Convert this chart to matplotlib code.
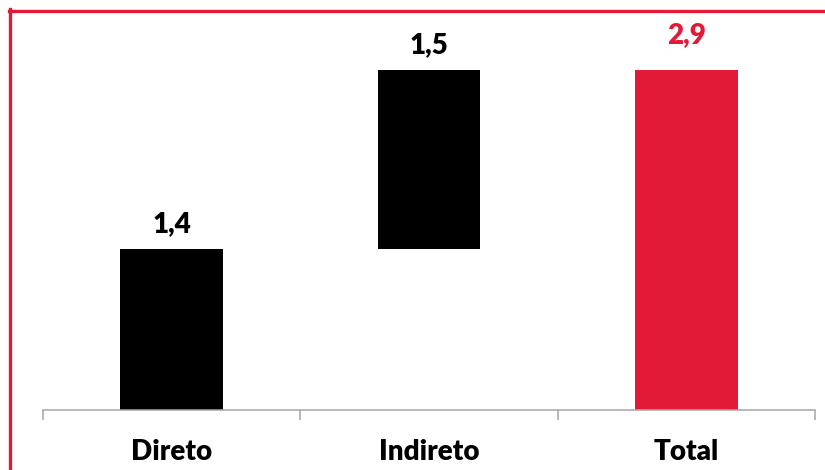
import matplotlib
matplotlib.use("Agg")
import matplotlib.pyplot as plt
from matplotlib.lines import Line2D
from matplotlib.transforms import offset_copy

categories = ["Direto", "Indireto", "Total"]
values = [1.37, 1.53, 2.9]
bottoms = [0.0, 1.37, 0.0]
colors = ["#000000", "#000000", "#E31A37"]
label_colors = ["#000000", "#000000", "#E31A37"]
label_offsets_px = [17, 17, 27]

W, H = 825, 470
fig = plt.figure(figsize=(W / 100, H / 100), dpi=100)
plt.rcParams['font.family'] = ['Lato', 'DejaVu Sans']

ax_left, ax_right = 43, 815
ax_bottom_px = 410
px_per_unit = 340 / 2.9
ymax = 3.3
ax_h = ymax * px_per_unit
ax = fig.add_axes([ax_left / W, (H - ax_bottom_px) / H, (ax_right - ax_left) / W, ax_h / H])

x = list(range(len(categories)))
ax.bar(x, values, bottom=bottoms, width=0.40, color=colors)
ax.set_xlim(-0.5, 2.5)
ax.set_ylim(0, ymax)

for xi, v, b, c, off in zip(x, values, bottoms, label_colors, label_offsets_px):
    tr = offset_copy(ax.transData, fig=fig, x=0, y=off * 0.72, units='points')
    ax.text(xi, v + b, f"{v:.1f}".replace(".", ","), transform=tr, ha='center', va='baseline',
            fontsize=20, fontweight='heavy', color=c)

for s in ['top', 'right', 'left']:
    ax.spines[s].set_visible(False)
ax.spines['bottom'].set_color('#A6A6A6')
ax.spines['bottom'].set_linewidth(1.1)
ax.set_yticks([])
ax.set_xticks(x)
ax.set_xticklabels(categories, fontsize=20, fontweight='heavy', va='baseline')
ax.tick_params(axis='x', which='major', length=0, pad=36)
ax.set_xticks([-0.5, 0.5, 1.5, 2.5], minor=True)
ax.tick_params(axis='x', which='minor', length=7.2, width=1.1, color='#A6A6A6', direction='out')
ax.patch.set_alpha(0)

red = "#E31A37"
fig.add_artist(Line2D([9.5 / W, 9.5 / W], [(H - 9) / H, 0], transform=fig.transFigure, color=red, linewidth=2.4))
fig.add_artist(Line2D([8.5 / W, 1], [(H - 10.5) / H, (H - 10.5) / H], transform=fig.transFigure, color=red, linewidth=2.4))

fig.savefig("out.png", dpi=100)
